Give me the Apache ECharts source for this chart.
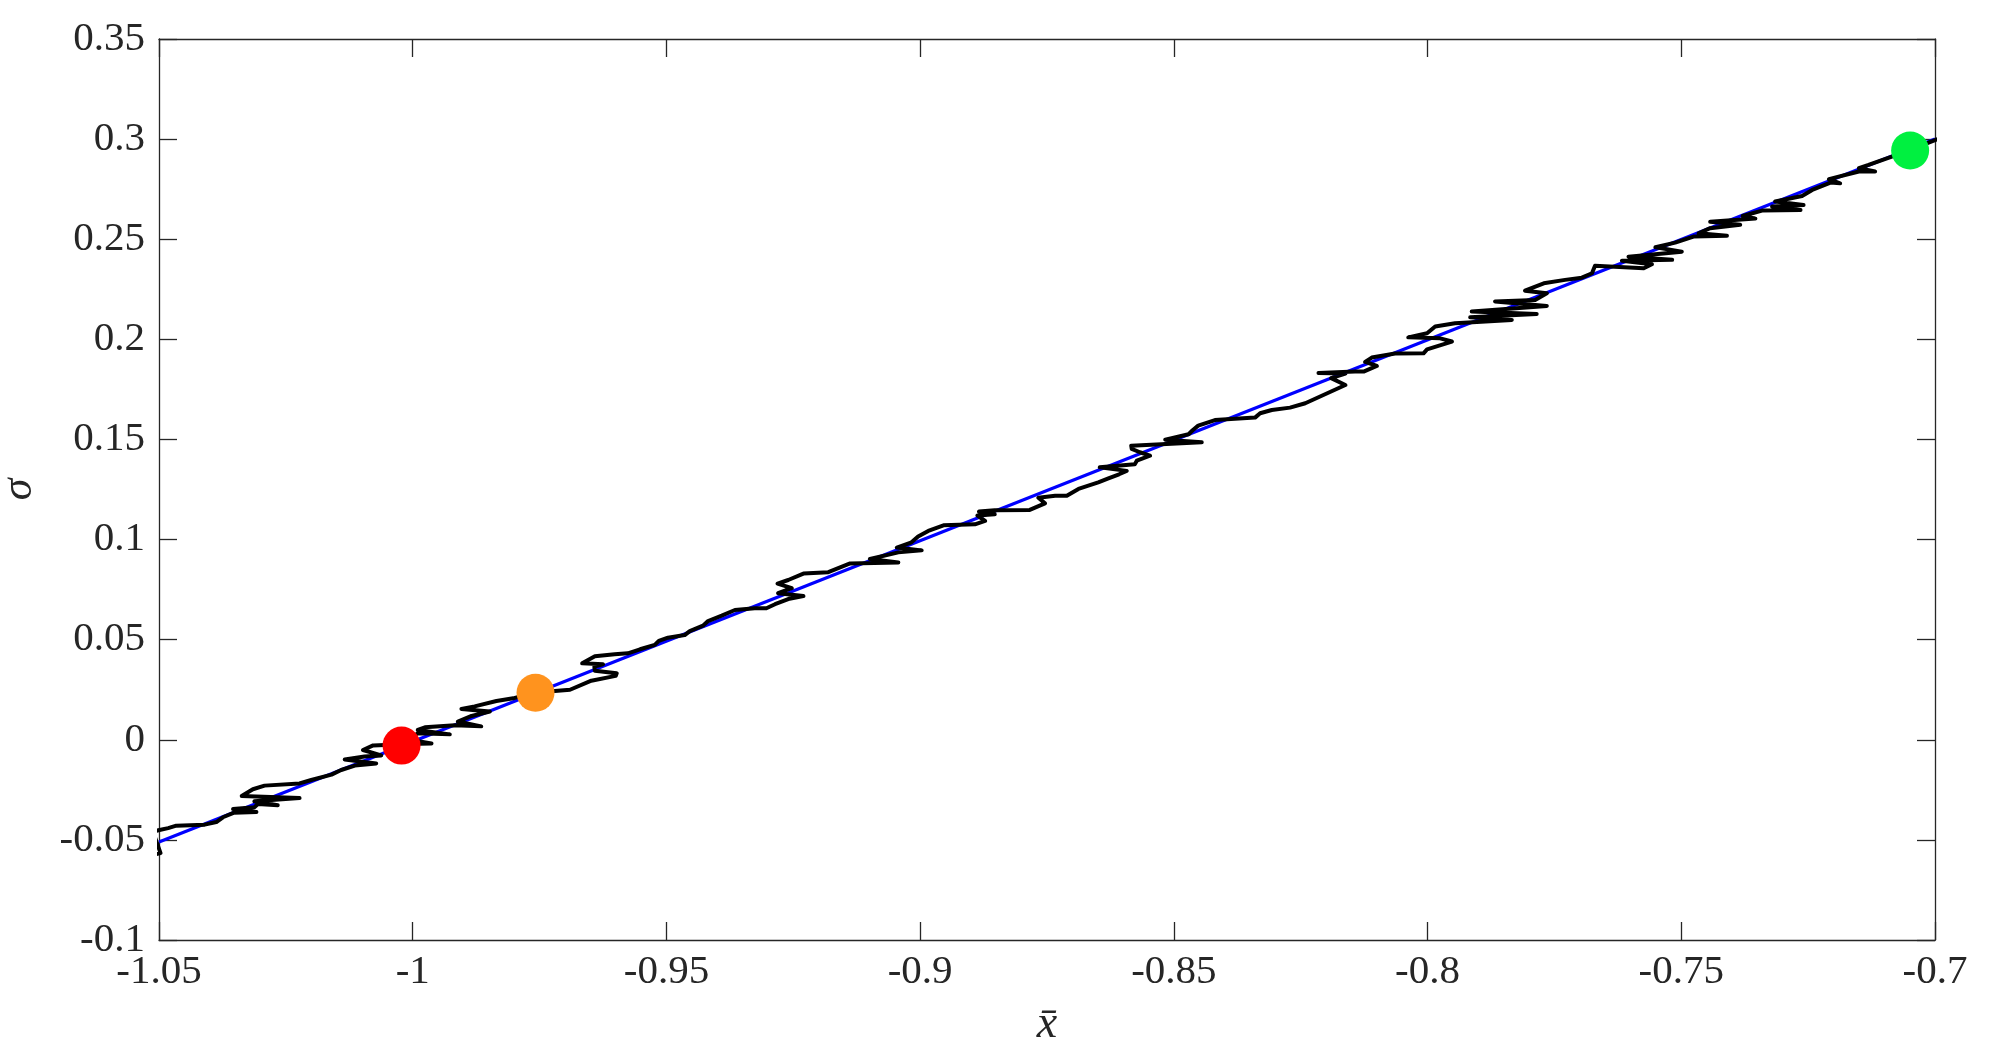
<!DOCTYPE html>
<html>
<head>
<meta charset="utf-8">
<title>sigma vs xbar</title>
<script src="https://cdn.jsdelivr.net/npm/echarts/dist/echarts.min.js"></script>
<style>
  html, body { margin: 0; padding: 0; background: #fff; }
  #chart { width: 1992px; height: 1062px; }
</style>
</head>
<body>
<div id="chart"></div>
<script>
// trajectory (black) in order
var trajX = [
  -1.0512, -1.0497, -1.0512, -1.0499, -1.0482, -1.0466, -1.0410, -1.0387, -1.0374, -1.0352,
  -1.0308, -1.0354, -1.0312, -1.0305, -1.0266, -1.0312, -1.0223, -1.0337, -1.0315, -1.0292,
  -1.0223, -1.0200, -1.0160, -1.0141, -1.0114, -1.0072, -1.0134, -1.0095, -1.0062, -1.0098,
  -1.0078, -1.0009, -0.9963, -1.0009, -0.9990, -0.9927, -0.9990, -0.9976, -0.9917, -0.9865,
  -0.9911, -0.9884, -0.9848, -0.9904, -0.9878, -0.9835, -0.9802, -0.9760, -0.9720, -0.9690,
  -0.9648, -0.9600, -0.9598, -0.9641, -0.9642, -0.9625, -0.9666, -0.9641, -0.9602, -0.9576,
  -0.9552, -0.9523, -0.9515, -0.9497, -0.9464, -0.9454, -0.9428, -0.9418, -0.9391, -0.9365,
  -0.9326, -0.9303, -0.9286, -0.9260, -0.9230, -0.9280, -0.9253, -0.9281, -0.9260, -0.9230,
  -0.9181, -0.9138, -0.9043, -0.9099, -0.9043, -0.8997, -0.9046, -0.9017, -0.9004, -0.8984,
  -0.8954, -0.8892, -0.8872, -0.8887, -0.8853, -0.8884, -0.8853, -0.8784, -0.8754, -0.8767,
  -0.8734, -0.8711, -0.8688, -0.8649, -0.8629, -0.8608, -0.8593, -0.8646, -0.8577, -0.8573,
  -0.8547, -0.8567, -0.8583, -0.8584, -0.8445, -0.8517, -0.8471, -0.8463, -0.8452, -0.8419,
  -0.8340, -0.8330, -0.8307, -0.8271, -0.8241, -0.8162, -0.8190, -0.8162, -0.8215, -0.8143,
  -0.8126, -0.8100, -0.8123, -0.8110, -0.8064, -0.8008, -0.8001, -0.7952, -0.7975, -0.8038,
  -0.8001, -0.7985, -0.7946, -0.7834, -0.7916, -0.7785, -0.7913, -0.7765, -0.7867, -0.7788,
  -0.7765, -0.7808, -0.7771, -0.7729, -0.7696, -0.7676, -0.7670, -0.7574, -0.7558, -0.7617,
  -0.7518, -0.7604, -0.7499, -0.7551, -0.7512, -0.7476, -0.7410, -0.7466, -0.7443, -0.7384,
  -0.7443, -0.7354, -0.7379, -0.7341, -0.7265, -0.7321, -0.7259, -0.7315, -0.7262, -0.7242,
  -0.7206, -0.7187, -0.7209, -0.7150, -0.7118, -0.7150, -0.7131, -0.7085, -0.7049, -0.6996,
  -0.6990
];
var trajY = [
  -0.0575, -0.0566, -0.0458, -0.0451, -0.0441, -0.0429, -0.0424, -0.0411, -0.0387, -0.0364,
  -0.0361, -0.0346, -0.0337, -0.0321, -0.0327, -0.0307, -0.0291, -0.0281, -0.0247, -0.0229,
  -0.0218, -0.0201, -0.0174, -0.0151, -0.0129, -0.0118, -0.0098, -0.0084, -0.0078, -0.0051,
  -0.0028, -0.0021, -0.0018, 0.0002, 0.0032, 0.0027, 0.0049, 0.0062, 0.0072, 0.0067,
  0.0091, 0.0119, 0.0141, 0.0154, 0.0167, 0.0194, 0.0207, 0.0237, 0.0244, 0.0250,
  0.0295, 0.0319, 0.0332, 0.0345, 0.0365, 0.0377, 0.0382, 0.0417, 0.0427, 0.0432,
  0.0452, 0.0474, 0.0494, 0.0510, 0.0523, 0.0543, 0.0570, 0.0593, 0.0620, 0.0648,
  0.0657, 0.0657, 0.0677, 0.0703, 0.0718, 0.0732, 0.0757, 0.0780, 0.0798, 0.0830,
  0.0837, 0.0881, 0.0886, 0.0903, 0.0936, 0.0946, 0.0960, 0.0986, 0.1015, 0.1043,
  0.1071, 0.1076, 0.1093, 0.1120, 0.1126, 0.1140, 0.1146, 0.1148, 0.1181, 0.1209,
  0.1219, 0.1219, 0.1253, 0.1286, 0.1306, 0.1326, 0.1343, 0.1361, 0.1376, 0.1394,
  0.1419, 0.1436, 0.1453, 0.1469, 0.1486, 0.1499, 0.1526, 0.1546, 0.1569, 0.1597,
  0.1609, 0.1631, 0.1647, 0.1659, 0.1681, 0.1772, 0.1806, 0.1829, 0.1832, 0.1839,
  0.1839, 0.1867, 0.1887, 0.1909, 0.1929, 0.1930, 0.1950, 0.1989, 0.2005, 0.2010,
  0.2030, 0.2064, 0.2080, 0.2097, 0.2110, 0.2127, 0.2139, 0.2167, 0.2189, 0.2197,
  0.2230, 0.2243, 0.2280, 0.2297, 0.2308, 0.2330, 0.2367, 0.2355, 0.2375, 0.2393,
  0.2397, 0.2413, 0.2438, 0.2460, 0.2483, 0.2513, 0.2517, 0.2530, 0.2555, 0.2572,
  0.2587, 0.2603, 0.2616, 0.2643, 0.2646, 0.2663, 0.2671, 0.2688, 0.2716, 0.2746,
  0.2783, 0.2779, 0.2800, 0.2838, 0.2838, 0.2855, 0.2871, 0.2913, 0.2946, 0.2999,
  0.3005
];

// straight reference line (blue)
var fitX = [-1.05, -0.7];
var fitY = [-0.051, 0.300];

// start / intermediate / end points
var markerX = [-1.0022, -0.9758, -0.7049];
var markerY = [-0.0029, 0.0235, 0.2943];

var xTicks = { min: -1.05, max: -0.7, interval: 0.05 };
var yTicks = { min: -0.1, max: 0.35, interval: 0.05 };

function zip(xs, ys) {
  return xs.map(function (x, i) { return [x, ys[i]]; });
}

var chart = echarts.init(document.getElementById('chart'));

var fontFam = '"Liberation Serif", "DejaVu Serif", serif';
var axisColor = '#262626';
var markerColors = ['#ff0000', '#ff931e', '#00f040'];

function boxAxis(pos, ticks, extra) {
  var ax = {
    type: 'value',
    position: pos,
    min: ticks.min,
    max: ticks.max,
    interval: ticks.interval,
    axisLine: { show: true, onZero: false, lineStyle: { color: axisColor, width: 1.3 } },
    axisTick: { show: true, inside: true, length: 18, lineStyle: { color: axisColor, width: 1.3 } },
    splitLine: { show: false },
    axisLabel: { show: false }
  };
  return Object.assign(ax, extra || {});
}

var labelStyle = {
  show: true,
  color: '#262626',
  fontFamily: fontFam,
  fontSize: 41
};

chart.setOption({
  animation: false,
  backgroundColor: '#fff',
  grid: {
    left: 159,
    right: 57,
    top: 39,
    bottom: 122,
    containLabel: false,
    outerBoundsMode: 'none'
  },
  xAxis: [
    boxAxis('bottom', xTicks, {
      axisLabel: Object.assign({ margin: 12 }, labelStyle),
      name: 'x\u0304',
      nameLocation: 'middle',
      nameGap: 62,
      nameTextStyle: { fontFamily: fontFam, fontStyle: 'italic', fontSize: 46, color: '#262626' }
    }),
    boxAxis('top', xTicks)
  ],
  yAxis: [
    boxAxis('left', yTicks, {
      axisLabel: Object.assign({ margin: 14 }, labelStyle),
      name: '\u03c3',
      nameLocation: 'middle',
      nameGap: 118,
      nameTextStyle: { fontFamily: fontFam, fontStyle: 'italic', fontSize: 44, color: '#262626' }
    }),
    boxAxis('right', yTicks)
  ],
  series: [
    {
      name: 'fit',
      type: 'line',
      data: zip(fitX, fitY),
      showSymbol: false,
      clip: true,
      lineStyle: { color: '#0000ff', width: 3.2 },
      z: 2
    },
    {
      name: 'path',
      type: 'line',
      data: zip(trajX, trajY),
      showSymbol: false,
      clip: true,
      lineStyle: { color: '#000', width: 4, join: 'round' },
      z: 3
    },
    {
      name: 'points',
      type: 'scatter',
      data: zip(markerX, markerY),
      symbolSize: 38,
      itemStyle: {
        opacity: 1,
        color: function (p) { return markerColors[p.dataIndex]; }
      },
      z: 4
    }
  ]
});
</script>
</body>
</html>
